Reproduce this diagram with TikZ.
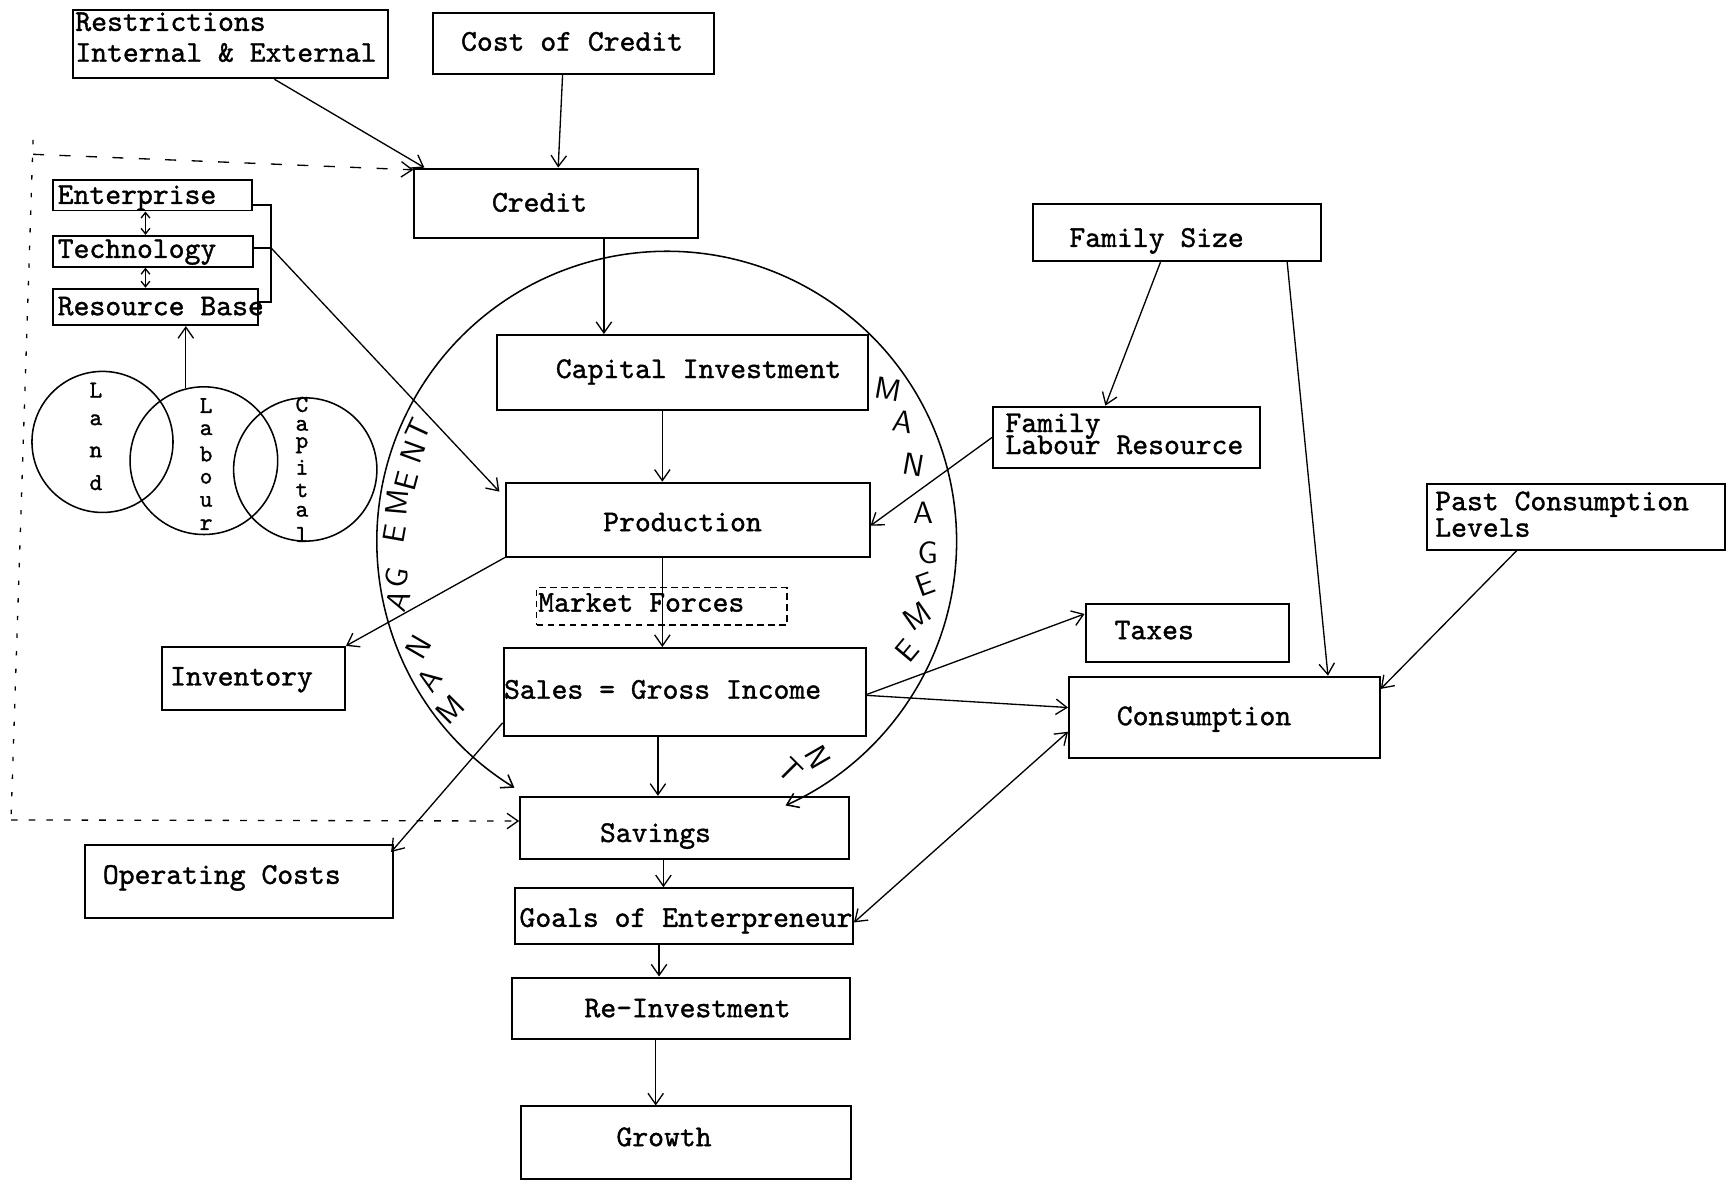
\documentclass[tikz,border=0pt]{standalone}
\usepackage{fontspec}
\newfontfamily\twfont{lmmono10-regular.otf}[FakeBold=1.2]
\usetikzlibrary{arrows.meta,calc,fit}
\begin{document}
\begin{tikzpicture}[x=0.5pt,y=-0.5pt]
\tikzset{
 box/.style={draw, line width=0.9pt, inner sep=0pt, rectangle},
 dbox/.style={draw, line width=0.6pt, inner sep=0pt, dash pattern=on 3pt off 2pt},
 tt/.style={font=\twfont\fontsize{13.7}{16}\selectfont, inner sep=0pt},
 lbl/.style={tt, anchor=base west},
 vl/.style={font=\twfont\fontsize{11}{11}\selectfont, inner sep=0pt},
 vc/.style={draw, circle, line width=0.7pt, inner sep=0pt},
 mg/.style={font=\sffamily\fontsize{14}{14}\selectfont, inner sep=0pt},
 conn/.style={line width=0.6pt},
 >={Straight Barb[length=5pt,width=7pt]},
 sm/.style={arrows={Straight Barb[length=2.5pt,width=4pt]-Straight Barb[length=2.5pt,width=4pt]}}
}
\fill[white] (0,0) rectangle (1568,1073);
\useasboundingbox (0,0) rectangle (1568,1073);

% ---------- boxes ----------
\node[box, fit={(66,9) (352,71)}] (rest) {};
\node[box, fit={(393,12) (648,67)}] (coc) {};
\node[box, fit={(376,153) (633,216)}] (credit) {};
\node[box, fit={(48,163) (229,191)}] (ent) {};
\node[box, fit={(48,214) (230,242)}] (tech) {};
\node[box, fit={(48,262) (234,295)}] (res) {};
\node[box, fit={(451,304) (788,372)}] (capinv) {};
\node[box, fit={(459,438) (789,505)}] (prod) {};
\node[dbox, fit={(487,533) (714,567)}] (mkt) {};
\node[box, fit={(457,588) (786,668)}] (sales) {};
\node[box, fit={(147,587) (313,644)}] (inv) {};
\node[box, fit={(472,723) (770,779)}] (sav) {};
\node[box, fit={(77,767) (357,833)}] (opc) {};
\node[box, fit={(467,806) (774,857)}] (goals) {};
\node[box, fit={(465,887) (771,943)}] (reinv) {};
\node[box, fit={(473,1004) (772,1070)}] (growth) {};
\node[box, fit={(937,185) (1199,237)}] (fsize) {};
\node[box, fit={(901,369) (1143,425)}] (flr) {};
\node[box, fit={(1295,439) (1565,499)}] (past) {};
\node[box, fit={(985,548) (1170,601)}] (taxes) {};
\node[box, fit={(970,614) (1252,688)}] (cons) {};

% ---------- texts ----------
\node[lbl] (rest-t1) at (68,28) {Restrictions};
\node[lbl] (rest-t2) at (68,56) {Internal \& External};
\node[lbl] (coc-t) at (418,46) {Cost of Credit};
\node[lbl] (credit-t) at (446,192) {Credit};
\node[lbl] (ent-t) at (52,185) {Enterprise};
\node[lbl] (tech-t) at (52,234) {Technology};
\node[lbl] (res-t) at (52,286) {Resource Base};
\node[lbl] (capinv-t) at (504,343) {Capital Investment};
\node[lbl] (prod-t) at (547,482) {Production};
\node[lbl] (mkt-t) at (488,555) {Market Forces};
\node[lbl] (sales-t) at (457,634) {Sales = Gross Income};
\node[lbl] (inv-t) at (154,622) {Inventory};
\node[lbl] (sav-t) at (544,764) {Savings};
\node[lbl] (opc-t) at (93,802) {Operating Costs};
\node[lbl] (goals-t) at (471,841) {Goals of Enterpreneur};
\node[lbl] (reinv-t) at (530,923) {Re-Investment};
\node[lbl] (growth-t) at (559,1040) {Growth};
\node[lbl] (fsize-t) at (970,224) {Family Size};
\node[lbl] (flr-t1) at (912,392) {Family};
\node[lbl] (flr-t2) at (912,412) {Labour Resource};
\node[lbl] (past-t1) at (1302,463) {Past Consumption};
\node[lbl] (past-t2) at (1302,487) {Levels};
\node[lbl] (taxes-t) at (1011,580) {Taxes};
\node[lbl] (cons-t) at (1013,658) {Consumption};

% ---------- Venn circles ----------
\node[vc, minimum size=64pt] (land) at (93,401) {};
\node[vc, minimum size=67pt] (lab) at (185,418) {};
\node[vc, minimum size=65pt] (cap) at (277,426) {};
\foreach \ch/\yy [count=\i] in {L/354,a/381,n/410,d/438}
  {\node[vl] (landl\i) at (87,\yy) {\ch};}
\foreach \ch/\yy [count=\i] in {L/368,a/390,b/412,o/434,u/455,r/476}
  {\node[vl] (labl\i) at (187,\yy) {\ch};}
\foreach \ch/\yy [count=\i] in {C/367,a/386,p/404,i/424,t/445,a/464,l/485}
  {\node[vl] (capl\i) at (274,\yy) {\ch};}

% ---------- management circle ----------
\coordinate (mc) at (605,491);
\draw[conn, line width=0.7pt, <->] ($(mc)+(121.7:263)$) arc[start angle=121.7, end angle=425.8, radius=263];
\foreach \ch/\ang/\rr/\rot [count=\i] in {M/142.2/249/45, A/149.6/250/55, N/157/245/60, A/167.5/250/70, G/172.3/247/80, E/181.6/247/80, M/188.1/247/85, E/193.1/242/75, N/199.4/244/70, T/204.1/247/65}
  {\node[mg, rotate=\rot] (mgl\i) at ($(mc)+(\ang:\rr)$) {\ch};}
\foreach \ch/\ang/\rr/\rot [count=\i] in {M/-34.4/244/-10, A/-26.8/240/-10, N/-17.2/235/-10, A/-6.2/234/0, G/2.6/237/0, E/9.6/238/20, M/16.8/237/35, E/24.6/240/50, N/55/239/-60, T/61.7/236/-45}
  {\node[mg, rotate=\rot] (mgr\i) at ($(mc)+(\ang:\rr)$) {\ch};}

% ---------- bracket and small arrows ----------
\coordinate (brkt) at (246,186);
\coordinate (brk) at (246,225);
\coordinate (brkb) at (246,274);
\draw[conn] ([yshift=-4.5pt]ent.east) -- (brkt) -- (brkb) -- ([yshift=2.25pt]res.east);
\draw[conn] ([yshift=1.5pt]tech.east) -- (brk);
\draw[conn, sm] ([xshift=-3.25pt]ent.south) -- ([xshift=-3.5pt]tech.north);
\draw[conn, sm] ([xshift=-3.5pt]tech.south) -- ([xshift=-4.5pt]res.north);
\draw[conn, ->] (lab.104) -- (lab.104 |- res.south);

% ---------- dashed feedback ----------
\coordinate (tl) at (30,140);
\coordinate (bl) at (10,744);
\draw[conn, dash pattern=on 5pt off 7pt, ->] (tl) -- ([yshift=-1pt]credit.north west);
\draw[conn, dash pattern=on 2pt off 6pt] (30,127) -- (bl);
\draw[conn, dash pattern=on 3pt off 5pt, ->] (bl) -- ([yshift=3pt]sav.west);

% ---------- connectors ----------
\draw[conn, ->] ([xshift=20pt]rest.south) -- ([xshift=5pt]credit.north west);
\draw[conn, ->] ([xshift=-5pt]coc.south) -- ([xshift=1pt]credit.north);
\draw[conn, ->] ([xshift=21.75pt]credit.south) -- ([xshift=-35.75pt]capinv.north);
\draw[conn, ->] ([xshift=-9.25pt]capinv.south) -- ([xshift=-11.5pt]prod.north);
\draw[conn, ->] (brk) -- ([xshift=-2.5pt,yshift=-4.5pt]prod.north west);
\draw[conn, ->] ([xshift=-11.5pt]prod.south) -- ([xshift=-10.25pt]sales.north);
\draw[conn, ->] (prod.south west) -- (inv.north east);
\draw[conn, ->] (flr.west) -- ([yshift=-2.75pt]prod.east);
\draw[conn, ->] ([xshift=-7.5pt]fsize.south) -- ([xshift=-9.5pt]flr.north);
\draw[conn, ->] ([xshift=50pt]fsize.south) -- ([xshift=47pt]cons.north);
\draw[conn, ->] ([xshift=-27pt]past.south) -- ([yshift=-6pt]cons.north east);
\draw[conn, ->] ([yshift=-1pt]sales.east) -- ([yshift=-5pt]taxes.north west);
\draw[conn, ->] ([yshift=-1.5pt]sales.east) -- ([yshift=4.5pt]cons.west);
\draw[conn, <->] ([yshift=-6.5pt]cons.west) -- ([yshift=-2.75pt]goals.east);
\draw[conn, ->] ([xshift=-12.25pt]sales.south) -- ([xshift=-12pt]sav.north);
\draw[conn, ->] ([yshift=6.5pt]sales.south west) -- ([xshift=-1.5pt,yshift=-3.5pt]opc.north east);
\draw[conn, ->] ([xshift=-9.5pt]sav.south) -- ([xshift=-9.25pt]goals.north);
\draw[conn, ->] ([xshift=-11.25pt]goals.south) -- ([xshift=-10pt]reinv.north);
\draw[conn, ->] ([xshift=-11.5pt]reinv.south) -- ([xshift=-13.75pt]growth.north);
\end{tikzpicture}
\end{document}
